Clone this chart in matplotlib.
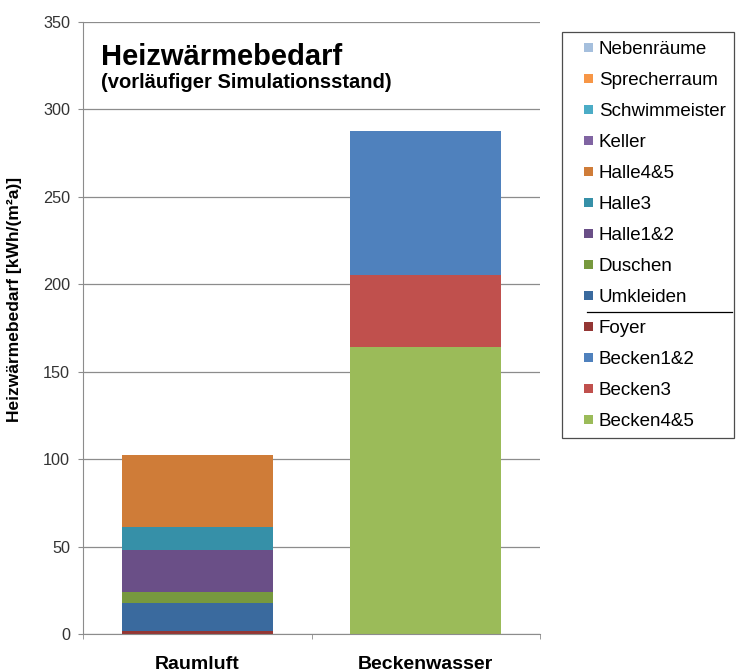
import numpy as np
import matplotlib.pyplot as plt
from matplotlib.lines import Line2D
from matplotlib.patches import Rectangle
from matplotlib.legend_handler import HandlerPatch

plt.rcParams['font.family'] = ['Liberation Sans', 'DejaVu Sans']

categories = ['Raumluft', 'Beckenwasser']
# stacking order bottom -> top
series = ['Becken4&5', 'Becken3', 'Becken1&2', 'Foyer', 'Umkleiden', 'Duschen',
          'Halle1&2', 'Halle3', 'Halle4&5', 'Keller', 'Schwimmeister',
          'Sprecherraum', 'Nebenräume']
values = {
    'Becken4&5':     [0, 164],
    'Becken3':       [0, 41.5],
    'Becken1&2':     [0, 82],
    'Foyer':         [1.6, 0],
    'Umkleiden':     [16, 0],
    'Duschen':       [6.7, 0],
    'Halle1&2':      [24, 0],
    'Halle3':        [12.9, 0],
    'Halle4&5':      [41.3, 0],
    'Keller':        [0, 0],
    'Schwimmeister': [0, 0],
    'Sprecherraum':  [0, 0],
    'Nebenräume':    [0, 0],
}
colors = {
    'Becken4&5': '#9BBB59', 'Becken3': '#C0504D', 'Becken1&2': '#4F81BD',
    'Foyer': '#943634', 'Umkleiden': '#3A6A9E', 'Duschen': '#77993E',
    'Halle1&2': '#6A4F87', 'Halle3': '#3690A8', 'Halle4&5': '#CF7C38',
    'Keller': '#8064A2', 'Schwimmeister': '#4BACC6', 'Sprecherraum': '#F79646',
    'Nebenräume': '#A5BFDD',
}

fig = plt.figure(figsize=(7.4, 6.72), dpi=100)
ax = fig.add_axes([83 / 740, 1 - 634 / 672, 457 / 740, 612 / 672])

x = np.arange(len(categories))
bottom = np.zeros(len(categories))
handles = []
for s in series:
    v = np.array(values[s], dtype=float)
    b = ax.bar(x, v, width=0.66, bottom=bottom, color=colors[s], label=s, zorder=2)
    handles.append(b.patches[0])
    bottom += v

ax.set_xlim(-0.5, 1.5)
ax.set_ylim(0, 350)
ax.set_yticks(range(0, 351, 50))
ax.yaxis.grid(True, color='#8c8c8c', linewidth=0.9, zorder=0)
for sp in ['top', 'right']:
    ax.spines[sp].set_visible(False)
for sp in ['left', 'bottom']:
    ax.spines[sp].set_color('#8c8c8c')
ax.set_xticks(x)
ax.set_xticklabels(categories, fontsize=14, fontweight='bold')
ax.set_xticks([-0.5, 0.5, 1.5], minor=True)
ax.tick_params(axis='x', which='major', length=0, pad=16)
ax.tick_params(axis='x', which='minor', length=3.6, color='#8c8c8c')
ax.tick_params(axis='y', length=3.6, color='#8c8c8c', labelsize=11.7, pad=5.8,
               labelcolor='#333333')
ax.set_ylabel('Heizwärmebedarf [kWh/(m²a)]', fontsize=12.5, fontweight='bold')
ax.yaxis.set_label_coords(-0.1335, 0.546)

fig.text(101 / 740, 1 - 65 / 672, 'Heizwärmebedarf', fontsize=21, fontweight='bold',
         va='baseline')
fig.text(101 / 740, 1 - 87.5 / 672, '(vorläufiger Simulationsstand)', fontsize=14.5,
         fontweight='bold', va='baseline')


def small_square(legend, orig_handle, xdescent, ydescent, width, height, fontsize):
    s = 9 * 72 / 100
    return Rectangle((width - s - xdescent, (height - s) / 2 - ydescent), s, s)


leg = fig.legend(handles[::-1], series[::-1], loc='upper left',
                 bbox_to_anchor=(562 / 740, 1 - 32 / 672), fontsize=13.5,
                 frameon=True, fancybox=False, edgecolor='#202020',
                 handlelength=1.2, handleheight=0.7, handletextpad=0.32,
                 labelspacing=0.74, borderpad=0.45, borderaxespad=0,
                 handler_map={Rectangle: HandlerPatch(patch_func=small_square)})
leg.get_frame().set_linewidth(0.9)

fig.add_artist(Line2D([587 / 740, 732 / 740], [1 - 312 / 672, 1 - 312 / 672],
                      color='black', linewidth=0.9, zorder=10))

plt.savefig('out.png', dpi=100)
plt.close(fig)
